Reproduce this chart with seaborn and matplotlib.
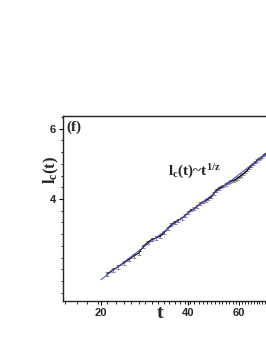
import numpy as np
import matplotlib
matplotlib.use('Agg')
import matplotlib.pyplot as plt
import matplotlib.ticker as mticker
import seaborn as sns

# data
t = [21, 22, 23, 24, 25, 26, 27, 28, 29, 30, 31, 32, 33, 34, 35, 36, 37, 38,
     39, 40, 41, 42, 43, 44, 45, 46, 47, 48, 49, 50, 51, 52, 53, 54, 55, 56,
     57, 58, 59, 60, 61, 62, 63, 64, 65, 66, 67, 68, 69, 70, 71, 72, 73, 74,
     75, 76]
lc = [2.590, 2.657, 2.708, 2.765, 2.820, 2.881, 2.926, 3.038, 3.116, 3.165,
      3.195, 3.224, 3.289, 3.373, 3.448, 3.502, 3.535, 3.578, 3.630, 3.692,
      3.754, 3.782, 3.832, 3.892, 3.930, 3.966, 4.003, 4.049, 4.132, 4.202,
      4.249, 4.282, 4.314, 4.347, 4.392, 4.423, 4.441, 4.471, 4.500, 4.542,
      4.584, 4.625, 4.666, 4.722, 4.790, 4.845, 4.886, 4.940, 4.994, 5.035,
      5.060, 5.099, 5.153, 5.192, 5.216, 5.254]
lc_err = 0.03

# power-law fit line
fit_t = [20, 125]
fit_lc = [2.51, 6.92]

sns.set_style('ticks')
plt.rcParams['font.family'] = ['Liberation Sans', 'DejaVu Sans']
plt.rcParams['mathtext.fontset'] = 'custom'
plt.rcParams['mathtext.rm'] = 'Liberation Serif:bold'
plt.rcParams['mathtext.it'] = 'Liberation Serif:bold'
plt.rcParams['mathtext.bf'] = 'Liberation Serif:bold'

fig = plt.figure(figsize=(2.66, 3.44), dpi=100)
ax = fig.add_axes([62.5 / 266, 1 - 300.7 / 344, (330 - 62.5) / 266, (300.7 - 116) / 344])

ax.errorbar(t, lc, yerr=lc_err, fmt='none', ecolor='#666666',
            elinewidth=0.5, capsize=1.5, capthick=0.5, zorder=2)
sns.lineplot(x=t, y=lc, color='black', lw=0.8, ax=ax, zorder=3)
sns.lineplot(x=fit_t, y=fit_lc, color='#4a4ae0', lw=0.7, ax=ax, zorder=4)

ax.set_xscale('log')
ax.set_yscale('log')
ax.set_xlim(14.76, 123.5)
ax.set_ylim(2.224, 6.457)

ax.set_xticks([20, 40, 60], labels=['20', '40', '60'])
ax.set_yticks([4, 6], labels=['4', '6'])
ax.xaxis.set_minor_locator(mticker.MultipleLocator(1.5))
ax.yaxis.set_minor_locator(mticker.FixedLocator(4 * 1.5 ** (np.arange(-10, 8) / 6)))
ax.xaxis.set_minor_formatter(mticker.NullFormatter())
ax.yaxis.set_minor_formatter(mticker.NullFormatter())

ax.tick_params(which='major', direction='out', length=3, width=0.8,
               labelsize=8, pad=2, color='black')
ax.tick_params(which='minor', direction='out', length=1.8, width=0.6, color='black')
ax.tick_params(axis='y', which='major', pad=1.5)
for lab in ax.get_xticklabels() + ax.get_yticklabels():
    lab.set_fontweight('bold')

for sp in ax.spines.values():
    sp.set_linewidth(1.0)
    sp.set_color('#222222')

ax.set_xlabel('t', fontfamily='Liberation Serif', fontweight='bold', fontsize=14)
ax.xaxis.label.set_va('baseline')
ax.xaxis.set_label_coords(0.365, -0.091)
ax.set_ylabel(r'$l_c(t)$', fontsize=12)
ax.yaxis.set_label_coords(-0.005, 0.708)

ax.text(0.015, 0.978, '(f)', transform=ax.transAxes, ha='left', va='top',
        fontfamily='Liberation Serif', fontweight='bold', fontsize=11)
ax.text(0.393, 0.697, r'$l_c(t)$~$t^{1/z}$', transform=ax.transAxes,
        ha='left', va='center', fontfamily='Liberation Serif',
        fontweight='bold', fontsize=11)

fig.savefig('out.png', dpi=100)
